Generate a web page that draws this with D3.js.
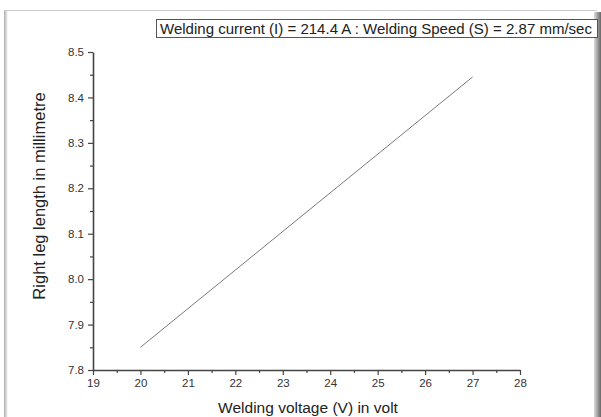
<!DOCTYPE html>
<html>
<head>
<meta charset="utf-8">
<script src="https://cdn.jsdelivr.net/npm/d3@7"></script>
<style>
  body { margin: 0; background: #fff; }
  svg { display: block; font-family: "Liberation Sans", Arial, sans-serif; }
</style>
</head>
<body>
<div id="chart"></div>
<script>
// data
const voltage = [20, 27];
const legLength = [7.85, 8.445];
const xTicks = [19, 20, 21, 22, 23, 24, 25, 26, 27, 28];
const yTicks = [7.8, 7.9, 8.0, 8.1, 8.2, 8.3, 8.4, 8.5];
const titleText = "Welding current (I) = 214.4 A : Welding Speed (S) = 2.87 mm/sec";
const xLabel = "Welding voltage (V) in volt";
const yLabel = "Right leg length in millimetre";

const W = 601, H = 417;
const plot = {left: 93, right: 520, top: 52, bottom: 370};

const svg = d3.select("#chart").append("svg")
    .attr("width", W)
    .attr("height", H);

// frame with shadows
const defs = svg.append("defs");
const gR = defs.append("linearGradient").attr("id", "shR").attr("x1", 0).attr("x2", 1);
gR.append("stop").attr("offset", 0).attr("stop-color", "#ddd");
gR.append("stop").attr("offset", 1).attr("stop-color", "#666");
const gL = defs.append("linearGradient").attr("id", "shL").attr("x1", 0).attr("x2", 1);
gL.append("stop").attr("offset", 0).attr("stop-color", "#aaa");
gL.append("stop").attr("offset", 1).attr("stop-color", "#fff");

svg.append("rect").attr("x", 4).attr("y", 10).attr("width", 4).attr("height", H - 10).attr("fill", "url(#shL)");
svg.append("line").attr("x1", 4).attr("x2", 597).attr("y1", 10.5).attr("y2", 10.5).attr("stroke", "#ccc");
svg.append("rect").attr("x", 594).attr("y", 12).attr("width", 7).attr("height", H - 12).attr("fill", "url(#shR)");

var x = d3.scaleLinear()
    .domain([19, 28])
    .range([plot.left, plot.right]);
var y = d3.scaleLinear()
    .domain([7.8, 8.5])
    .range([plot.bottom, plot.top]);

// minor ticks
svg.append("g")
    .attr("transform", `translate(0, ${plot.bottom})`)
    .call(d3.axisBottom(x).tickValues(d3.range(19.5, 28, 1)).tickSize(3).tickFormat(""))
    .call(g => g.select(".domain").remove())
    .selectAll("line").attr("stroke", "#444").attr("stroke-width", 1.2);
svg.append("g")
    .attr("transform", `translate(${plot.left}, 0)`)
    .call(d3.axisLeft(y).tickValues(d3.range(7.85, 8.5, 0.1)).tickSize(3).tickFormat(""))
    .call(g => g.select(".domain").remove())
    .selectAll("line").attr("stroke", "#444").attr("stroke-width", 1.2);

// major axes
const xAxis = svg.append("g")
    .attr("transform", `translate(0, ${plot.bottom})`)
    .call(d3.axisBottom(x).tickValues(xTicks).tickSize(5).tickSizeOuter(0).tickPadding(4).tickFormat(d3.format("d")));
const yAxis = svg.append("g")
    .attr("transform", `translate(${plot.left}, 0)`)
    .call(d3.axisLeft(y).tickValues(yTicks).tickSize(5).tickSizeOuter(0).tickPadding(4).tickFormat(d3.format(".1f")));

[xAxis, yAxis].forEach(a => {
    a.select(".domain").attr("stroke", "#444").attr("stroke-width", 1.6);
    a.selectAll(".tick line").attr("stroke", "#444").attr("stroke-width", 1.2);
    a.selectAll(".tick text").attr("fill", "#333").attr("font-size", 11.5)
        .attr("font-family", "'Liberation Sans', Arial, sans-serif");
});

// the line
svg.append("path")
    .datum(voltage.map((v, i) => ({v: v, l: legLength[i]})))
    .attr("fill", "none")
    .attr("stroke", "#7a7a7a")
    .attr("stroke-width", 1)
    .attr("d", d3.line()
        .x(d => x(d.v))
        .y(d => y(d.l)));

// axis titles
svg.append("text")
    .attr("x", 308)
    .attr("y", 413)
    .attr("text-anchor", "middle")
    .attr("font-size", 15.5)
    .attr("fill", "#222")
    .text(xLabel);
svg.append("text")
    .attr("transform", `translate(45, 196) rotate(-90)`)
    .attr("text-anchor", "middle")
    .attr("font-size", 16.5)
    .attr("fill", "#222")
    .text(yLabel);

// title box
const tb = svg.append("g");
tb.append("rect")
    .attr("x", 156.5)
    .attr("y", 19.5)
    .attr("width", 441)
    .attr("height", 18)
    .attr("fill", "#fff")
    .attr("stroke", "#555");
tb.append("text")
    .attr("x", 160)
    .attr("y", 33.5)
    .attr("font-size", 15.2)
    .attr("textLength", 432)
    .attr("lengthAdjust", "spacingAndGlyphs")
    .attr("fill", "#222")
    .text(titleText);
</script>
</body>
</html>
